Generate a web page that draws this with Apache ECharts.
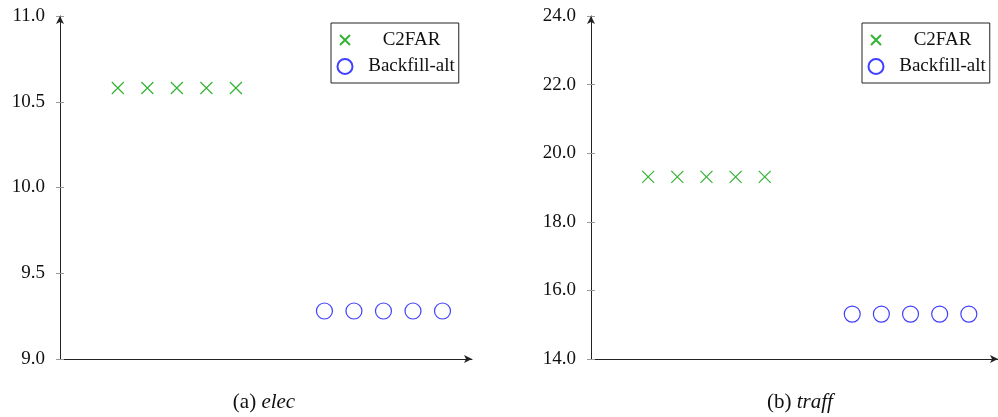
<!DOCTYPE html>
<html><head><meta charset="utf-8">
<script src="https://cdn.jsdelivr.net/npm/echarts@6/dist/echarts.min.js"></script>
<style>html,body{margin:0;padding:0;background:#fff}#c{width:998px;height:417px}</style>
</head><body><div id="c"></div>
<script>
// data
const xC2FAR = [1, 2, 3, 4, 5];
const xBackfill = [8, 9, 10, 11, 12];
const elecC2FAR = [10.58, 10.58, 10.58, 10.58, 10.58];
const elecBackfill = [9.28, 9.28, 9.28, 9.28, 9.28];
const traffC2FAR = [19.31, 19.31, 19.31, 19.31, 19.31];
const traffBackfill = [15.31, 15.31, 15.31, 15.31, 15.31];
const seriesNames = ['C2FAR', 'Backfill-alt'];
const captions = [['(a) ', 'elec'], ['(b) ', 'traff']];
const yRanges = [[9, 11, 0.5], [14, 24, 2]];

const FONT = 'Liberation Serif';
const GREEN = '#00a000', BLUE = '#1010ff';
const crossPath = 'path://M0,0L10,10M10,0L0,10';
const crossLegend = 'path://M-2.5,-2.5M0,0L10,10M10,0L0,10M12.5,12.5';

function pairs(xs, ys) { return xs.map((x, i) => [x, ys[i]]); }

const grids = [
  {left: 60, top: 16, width: 412, height: 343},
  {left: 591, top: 16, width: 412, height: 343}
];
const xAxes = [], yAxes = [], series = [];
[0, 1].forEach(g => {
  xAxes.push({type: 'value', gridIndex: g, min: -0.96, max: 13,
    axisLine: {show: true, onZero: false, lineStyle: {color: '#222', width: 1}, symbol: ['none', 'arrow'], symbolSize: [6, 8]},
    axisTick: {show: false}, axisLabel: {show: false}, splitLine: {show: false}});
  const [mn, mx, iv] = yRanges[g];
  yAxes.push({type: 'value', gridIndex: g, min: mn, max: mx, interval: iv, position: 'left',
    axisLine: {show: true, onZero: false, lineStyle: {color: '#222', width: 1}, symbol: ['none', 'arrow'], symbolSize: [6, 8]},
    axisTick: {show: true, length: 4, lineStyle: {color: '#999'}},
    axisLabel: {fontFamily: FONT, fontSize: 19, color: '#111', margin: 15, formatter: v => v.toFixed(1)},
    splitLine: {show: false}});
  yAxes.push({type: 'value', gridIndex: g, min: mn, max: mx, interval: iv, position: 'left', offset: 0,
    axisLine: {show: false, onZero: false}, axisTick: {show: true, inside: true, length: 4, lineStyle: {color: '#999'}},
    axisLabel: {show: false}, splitLine: {show: false}});
});
const sets = [[elecC2FAR, elecBackfill], [traffC2FAR, traffBackfill]];
[0, 1].forEach(g => {
  series.push({name: seriesNames[0], type: 'scatter', xAxisIndex: g, yAxisIndex: 2 * g,
    data: pairs(xC2FAR, sets[g][0]), symbol: crossPath, symbolSize: 12,
    itemStyle: {color: 'none', borderColor: GREEN, borderWidth: 1.2}});
  series.push({name: seriesNames[1], type: 'scatter', xAxisIndex: g, yAxisIndex: 2 * g,
    data: pairs(xBackfill, sets[g][1]), symbol: 'circle', symbolSize: 16,
    itemStyle: {color: 'rgba(0,0,0,0)', borderColor: BLUE, borderWidth: 1.2}});
});
const legendBase = {
  orient: 'vertical', top: 23, itemWidth: 15, itemHeight: 15, itemGap: 7,
  padding: [7, 4, 7, 4], borderColor: '#222', borderWidth: 1, backgroundColor: '#fff',
  selectedMode: false,
  data: [{name: seriesNames[0], icon: crossLegend}, {name: seriesNames[1]}],
  formatter: n => '{a|' + n + '}',
  textStyle: {fontFamily: FONT, fontSize: 19, color: '#111',
    rich: {a: {width: 108, align: 'center', fontFamily: FONT, fontSize: 19, color: '#111'}}}
};
const option = {
  animation: false,
  grid: grids, xAxis: xAxes, yAxis: yAxes, series: series,
  legend: [Object.assign({}, legendBase, {left: 331}), Object.assign({}, legendBase, {left: 862})],
  title: captions.map((c, i) => ({
    text: '{n|' + c[0] + '}{i|' + c[1] + '}', left: i === 0 ? 259 : 795, top: 387, textAlign: 'center',
    textStyle: {fontWeight: 'normal', rich: {
      n: {fontFamily: FONT, fontSize: 21, fontWeight: 'normal', color: '#111'},
      i: {fontFamily: FONT, fontSize: 21, fontWeight: 'normal', fontStyle: 'italic', color: '#111'}}}
  }))
};
echarts.init(document.getElementById('c')).setOption(option);
</script></body></html>
